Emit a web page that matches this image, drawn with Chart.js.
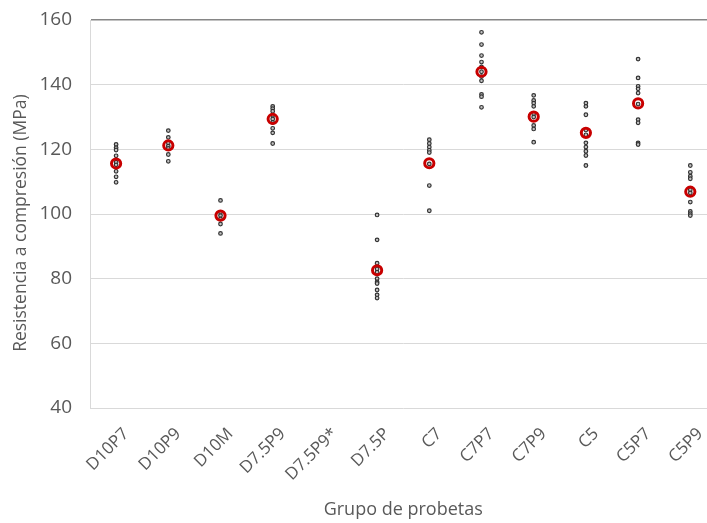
<!DOCTYPE html>
<html>
<head>
<meta charset="utf-8">
<script src="https://cdn.jsdelivr.net/npm/chart.js@4/dist/chart.umd.min.js"></script>
<style>
  html, body { margin: 0; padding: 0; background: #fff; overflow: hidden; }
  #wrap { width: 724px; height: 523px; position: relative; }
</style>
</head>
<body>
<div id="wrap"><canvas id="c"></canvas></div>
<script>
const categories = ['D10P7','D10P9','D10M','D7.5P9','D7.5P9*','D7.5P','C7','C7P7','C7P9','C5','C5P7','C5P9'];

const D10P7  = [121.5, 120.5, 119.8, 118, 116, 115.2, 113.2, 111.5, 109.8];
const D10P9  = [125.8, 123.7, 122, 121, 120.3, 118.4, 116.3];
const D10M   = [104.2, 100.5, 99.5, 98.5, 96.9, 94];
const D75P9  = [133.3, 132.6, 131.8, 130.5, 129.4, 128.3, 126.5, 125.1, 121.8];
const D75P9s = [];
const D75P   = [99.7, 92, 84.8, 83, 82, 80, 79, 78.5, 76.5, 75, 74];
const C7     = [123, 121.8, 120.7, 119.7, 119, 115.5, 108.8, 101];
const C7P7   = [156.2, 152.4, 149, 147, 145.5, 144, 142.5, 141.2, 137, 136.3, 133];
const C7P9   = [136.7, 135.1, 134.3, 133.3, 131, 130, 127.4, 126.3, 122.2];
const C5     = [134.3, 133.3, 130.7, 126, 124.5, 122, 120.7, 119.4, 118.1, 115];
const C5P7   = [147.9, 142.1, 139.5, 138.7, 137.4, 134, 129.2, 128.2, 122, 121.5];
const C5P9   = [115, 112.9, 111.7, 110.9, 107.5, 106.5, 103.7, 100.8, 100.1, 99.5];

const means = [115.6, 121.2, 99.5, 129.4, null, 82.6, 115.7, 144, 130.1, 125.1, 134.2, 106.9];

const yTicks = [40, 60, 80, 100, 120, 140, 160];

const groups = [D10P7, D10P9, D10M, D75P9, D75P9s, D75P, C7, C7P7, C7P9, C5, C5P7, C5P9];

const pointData = [];
groups.forEach((arr, i) => arr.forEach(v => pointData.push({x: categories[i], y: v})));
const meanData = means.map((v, i) => ({x: categories[i], y: v}));

const FONT = "'Open Sans', sans-serif";
const TXT = '#595959';

new Chart(document.getElementById('c'), {
  type: 'scatter',
  data: {
    datasets: [
      {
        label: 'Media',
        data: meanData,
        pointStyle: 'circle',
        pointRadius: 4.6,
        pointBorderWidth: 3,
        pointBorderColor: '#c80000',
        pointBackgroundColor: 'rgba(255,255,255,0)',
        showLine: false
      },
      {
        label: 'Probetas',
        data: pointData,
        pointStyle: 'circle',
        pointRadius: 1.8,
        pointBorderWidth: 1.2,
        pointBorderColor: '#333333',
        pointBackgroundColor: '#c4c4c4',
        showLine: false
      }
    ]
  },
  options: {
    responsive: true,
    maintainAspectRatio: false,
    animation: false,
    events: [],
    layout: { padding: { top: 20, right: 0, left: 0, bottom: 0 } },
    plugins: { legend: { display: false }, tooltip: { enabled: false } },
    scales: {
      x: {
        type: 'category',
        labels: categories,
        offset: true,
        grid: { display: false, drawTicks: false },
        border: { display: false },
        ticks: {
          color: TXT,
          font: { family: FONT, size: 17 },
          minRotation: 45,
          maxRotation: 45,
          padding: 16,
          labelOffset: 10,
          autoSkip: false
        },
        title: {
          display: true,
          text: 'Grupo de probetas',
          color: TXT,
          font: { family: FONT, size: 18 },
          padding: { top: 0, bottom: 2 }
        },
        afterFit: s => { s.height = 115; s.paddingLeft = 0; s.paddingRight = 0; }
      },
      y: {
        min: 40,
        max: 160,
        afterBuildTicks: s => { s.ticks = yTicks.map(v => ({ value: v })); },
        grid: {
          drawTicks: false,
          color: ctx => (ctx.tick && ctx.tick.value === 160) ? '#868686' : '#d9d9d9',
          lineWidth: ctx => (ctx.tick && ctx.tick.value === 160) ? 1.6 : 1
        },
        border: { display: true, color: '#d9d9d9', width: 1 },
        ticks: {
          color: TXT,
          font: { family: FONT, size: 19 },
          padding: 18
        },
        title: {
          display: true,
          text: 'Resistencia a compresión (MPa)    ',
          color: TXT,
          font: { family: FONT, size: 17.5 },
          padding: { top: 11, bottom: 0 }
        },
        afterFit: s => { s.width = 90; s.paddingTop = 0; s.paddingBottom = 0; }
      }
    }
  }
});
</script>
</body>
</html>
